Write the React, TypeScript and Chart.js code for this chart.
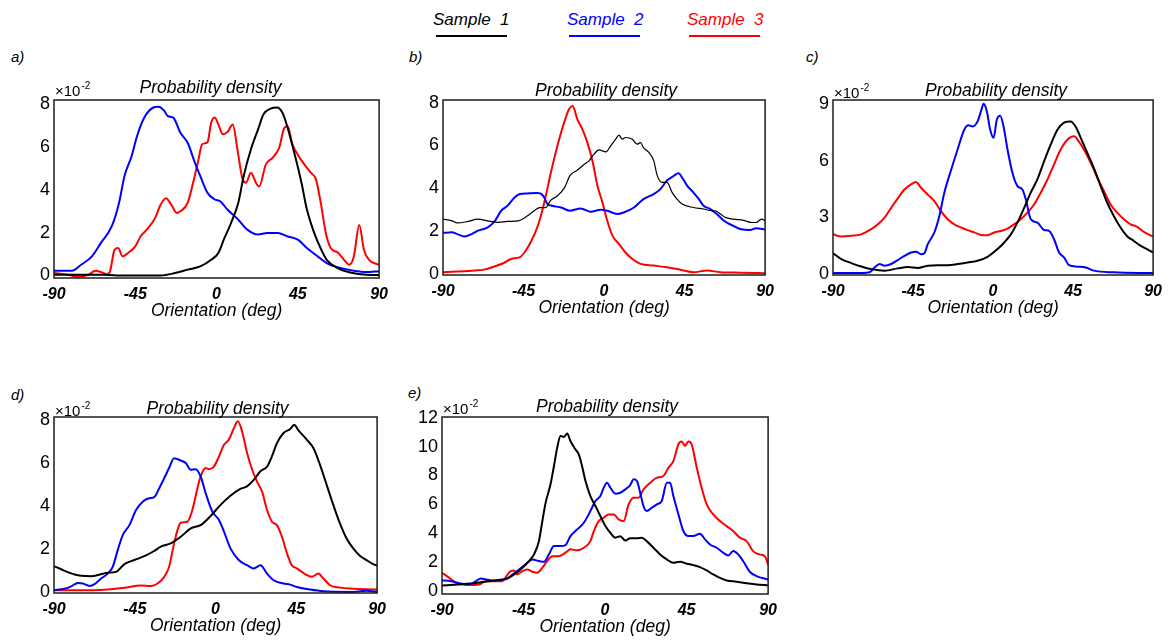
import React, { useEffect, useRef } from "react";
import { Chart, registerables } from "chart.js";

Chart.register(...registerables);

type Pt = [number, number];

const FONT = "'Liberation Sans', Arial, Helvetica, sans-serif";

// Legend / series
const SERIES_NAMES = ["Sample  1", "Sample  2", "Sample  3"];
const SERIES_COLORS = ["#000000", "#0000ff", "#ff0000"];

// Axes
const X_TICKS = [-90, -45, 0, 45, 90];
const Y_TICKS_8 = [0, 2, 4, 6, 8];
const Y_TICKS_9 = [0, 3, 6, 9];
const Y_TICKS_12 = [0, 2, 4, 6, 8, 10, 12];
const Y_TITLE = "Probability density";
const X_TITLE = "Orientation (deg)";

// ---- a) orientation (deg), density (x10^-2)
const A_S1: Pt[] = [[-90,0.03],[-80,0.03],[-64,0.03],[-55,0.0],[-31,0.0],[-23,0.11],[-16,0.27],[-9,0.42],[-3,0.73],[1,1.05],[4,1.67],[8,2.45],[12,3.38],[15,4.64],[19,5.89],[23,6.83],[26,7.53],[30,7.8],[33.5,7.85],[36.5,7.6],[39,7.0],[43,5.75],[47,4.34],[50,3.09],[54,2.0],[58,1.2],[61,0.73],[67,0.34],[74,0.14],[83,0.03],[90,0.02]];
const A_S2: Pt[] = [[-90,0.22],[-80,0.22],[-75,0.5],[-69,0.89],[-64,1.52],[-58,2.3],[-54,3.39],[-51,4.64],[-47,5.58],[-44,6.52],[-40,7.38],[-35,7.85],[-32,7.89],[-29,7.7],[-27,7.45],[-24,7.38],[-20,6.67],[-16,6.2],[-12,5.27],[-9,4.64],[-5,3.86],[-1,3.55],[2,3.47],[6,3.08],[12,2.61],[17,2.14],[23,1.91],[28,1.98],[34,1.98],[39,1.83],[45,1.67],[50,1.28],[56,0.89],[61,0.58],[69,0.34],[76,0.22],[83,0.16],[90,0.2]];
const A_S3: Pt[] = [[-90,0.11],[-82,0.03],[-77,-0.06],[-71,0.03],[-67,0.22],[-64,0.16],[-61,0.06],[-59,0.19],[-56.5,1.2],[-54.5,1.28],[-52,0.89],[-49,1.05],[-45,1.36],[-42,1.83],[-38,2.2],[-34,2.69],[-31,3.3],[-28,3.61],[-25,3.3],[-22,2.92],[-20,3.0],[-16,3.39],[-13,4.33],[-10,5.42],[-8,6.13],[-5,6.23],[-3,7.13],[-1,7.38],[1,7.06],[3.5,6.6],[6,6.7],[9,7.06],[11.7,5.81],[14.4,4.5],[16.3,4.33],[19,4.8],[21.8,4.33],[23.6,4.16],[27.3,5.19],[31,5.5],[34.7,5.97],[37.4,6.88],[39.3,6.98],[42,6.13],[44.8,5.67],[48.5,5.2],[52.2,4.8],[55,4.5],[57.7,3.39],[60.5,1.98],[63.2,1.28],[67,1.08],[70.6,0.73],[73.4,0.5],[76,0.89],[79,2.36],[81.6,1.2],[84.4,0.73],[90,0.5]];

// ---- b)
const B_S1: Pt[] = [[-90,2.56],[-85,2.48],[-82,2.38],[-76,2.45],[-70.5,2.56],[-65,2.48],[-59,2.41],[-54,2.45],[-48,2.48],[-43,2.7],[-39,2.95],[-36,3.1],[-32.5,3.1],[-30,3.42],[-26,3.65],[-22,4.04],[-19,4.6],[-15,4.84],[-11,5.12],[-8.4,5.28],[-5.6,5.59],[-2.8,5.79],[1,5.7],[3.7,5.98],[6.5,6.29],[8.3,6.48],[10.2,6.29],[12,6.37],[15.8,6.29],[18.5,6.06],[20.4,6.13],[22,5.9],[25,5.67],[27.8,5.28],[29.7,4.6],[32.4,4.27],[35.2,4.27],[38,3.81],[40.8,3.49],[43.6,3.26],[50,3.1],[55.6,3.03],[60,2.95],[62,2.95],[65,2.8],[67.7,2.64],[72.3,2.56],[77.9,2.5],[82.5,2.4],[85,2.4],[88,2.56],[90,2.48]];
const B_S2: Pt[] = [[-90,1.92],[-85,1.94],[-82,1.86],[-78,1.75],[-74,1.86],[-70.5,2.02],[-65,2.17],[-61,2.48],[-57.5,2.95],[-54,3.18],[-50,3.57],[-47,3.73],[-43,3.76],[-37,3.78],[-34,3.65],[-31.6,3.26],[-29,3.18],[-24,3.1],[-19,2.95],[-13,3.06],[-7.4,2.9],[-1.9,3.0],[1.8,2.95],[7.4,2.8],[11,2.87],[16.7,3.1],[22,3.49],[27.8,3.73],[31.5,3.96],[35,4.35],[39,4.58],[41.7,4.7],[43.6,4.5],[46.4,4.12],[50,3.8],[53,3.49],[55.6,3.18],[59.4,3.03],[63,2.8],[67,2.48],[72,2.25],[76,2.1],[81.6,2.05],[85,2.13],[90,2.07]];
const B_S3: Pt[] = [[-90,0.08],[-82,0.11],[-72,0.16],[-67,0.2],[-61,0.36],[-56,0.51],[-52,0.7],[-47,0.78],[-44.5,1.0],[-41,1.48],[-37,2.25],[-33.4,3.34],[-29.7,4.74],[-26,6.0],[-22.3,7.07],[-19.5,7.7],[-17.6,7.84],[-14.9,7.22],[-12.1,6.75],[-9.3,6.13],[-6.5,5.28],[-3.7,4.12],[-0.9,3.34],[1.8,2.48],[4.6,1.8],[8.3,1.4],[12,1.0],[15.8,0.7],[20.4,0.47],[27.8,0.39],[35.2,0.31],[42.7,0.2],[50,0.08],[57.5,0.16],[65,0.08],[76,0.06],[90,0.03]];

// ---- c)
const C_S1: Pt[] = [[-90,1.1],[-85.3,0.79],[-79.7,0.58],[-74.1,0.4],[-68.5,0.26],[-61,0.18],[-53.6,0.3],[-47.9,0.37],[-42.3,0.32],[-36.7,0.44],[-31.1,0.47],[-25.5,0.47],[-19.9,0.53],[-14.3,0.61],[-8.7,0.7],[-3.1,0.91],[2.5,1.32],[6.3,1.67],[10,2.1],[13.7,2.72],[17.5,3.5],[21.2,4.3],[24.9,5.0],[28.7,5.96],[32.4,6.84],[36.2,7.63],[39.9,8.0],[43.6,8.07],[46.4,7.8],[49.3,7.2],[53,6.4],[56.7,5.6],[60.5,4.65],[64.2,3.77],[67.9,3.07],[71.7,2.46],[75.4,2.0],[79.2,1.75],[82.9,1.5],[86.6,1.32],[90,1.14]];
const C_S2: Pt[] = [[-90,0.05],[-78,0.05],[-69.4,0.1],[-66.6,0.35],[-63.8,0.53],[-61,0.44],[-57.3,0.53],[-53.6,0.74],[-49.8,0.96],[-46.1,1.14],[-43.3,1.18],[-40.5,1.05],[-38.6,1.1],[-36.7,1.58],[-33,2.2],[-30.2,3.07],[-27.4,4.3],[-23.6,5.5],[-19.9,6.6],[-16.2,7.63],[-13.9,7.86],[-11.5,7.8],[-8.7,8.07],[-6.8,8.6],[-5.3,9.0],[-3.5,8.6],[-1.6,7.63],[0.3,7.2],[2.1,8.16],[4.0,8.37],[5.9,7.8],[8.1,6.6],[10.9,5.35],[13.7,4.65],[16.5,4.47],[18.4,3.95],[21.2,2.9],[24.9,2.72],[28.7,2.33],[31.5,2.28],[34.3,1.84],[37.1,1.14],[39.9,0.88],[42.7,0.47],[47.4,0.39],[52.1,0.35],[56.7,0.18],[67.9,0.09],[90,0.05]];
const C_S3: Pt[] = [[-90,2.1],[-85.3,1.98],[-79.7,2.02],[-74.1,2.1],[-68.5,2.37],[-64.8,2.63],[-61,2.98],[-57.3,3.5],[-53.6,4.0],[-49.8,4.47],[-46.1,4.74],[-43.3,4.86],[-40.5,4.56],[-36.7,4.2],[-33,3.86],[-29.3,3.33],[-25.5,2.9],[-21.8,2.63],[-18,2.46],[-14.3,2.32],[-10.6,2.2],[-6.8,2.07],[-3.1,2.05],[0.7,2.2],[4.4,2.28],[8.1,2.4],[11.9,2.63],[15.6,2.9],[19.3,3.25],[23.1,3.68],[26.8,4.3],[30.6,5.0],[34.3,5.8],[38,6.58],[41.8,7.1],[45.5,7.28],[48.3,7.0],[51.1,6.58],[54.9,5.88],[58.6,5.1],[62.3,4.4],[66.1,3.68],[69.8,3.25],[73.6,2.9],[77.3,2.63],[81,2.5],[84.8,2.23],[90,1.98]];

// ---- d)
const D_S1: Pt[] = [[-90,1.2],[-84.1,0.98],[-78.5,0.81],[-74.8,0.75],[-69.3,0.73],[-63.8,0.82],[-60.1,0.89],[-55.4,0.93],[-50.8,1.29],[-45.3,1.48],[-39.7,1.66],[-34.2,1.9],[-30.5,2.1],[-25,2.25],[-19.4,2.56],[-13.8,2.95],[-8.3,3.1],[-2.8,3.52],[2.8,4.04],[8.3,4.46],[13.8,4.78],[17.5,4.9],[21.3,5.2],[25,5.6],[28.7,5.82],[31.4,6.29],[34.2,6.91],[37.9,7.38],[41.6,7.56],[43.8,7.76],[46.2,7.5],[50.8,7.07],[54.5,6.68],[58.2,5.9],[61.9,4.97],[65.6,4.04],[69.3,3.18],[73,2.48],[76.7,2.02],[80.4,1.68],[84.1,1.48],[87.8,1.29],[90,1.22]];
const D_S2: Pt[] = [[-90,0.08],[-84.1,0.15],[-80.4,0.26],[-76.7,0.42],[-73.9,0.39],[-70.2,0.28],[-67.4,0.36],[-63.8,0.62],[-60.1,0.85],[-57.3,1.16],[-54.5,1.94],[-51.7,2.64],[-48,3.1],[-44.3,3.8],[-40.6,4.19],[-37,4.35],[-34.2,4.4],[-31.4,4.81],[-28.6,5.28],[-25.9,5.75],[-23.1,6.21],[-19.4,6.1],[-16.6,5.98],[-13.8,5.67],[-11.1,5.7],[-8.3,5.36],[-5.5,4.58],[-1.8,3.73],[1.9,3.34],[4.7,2.8],[8.3,2.02],[12.9,1.48],[17.6,1.24],[21.3,1.09],[25,1.24],[28.7,0.85],[32.4,0.54],[37.9,0.39],[41.6,0.34],[45.3,0.23],[52.7,0.11],[60.1,0.03],[74.9,0.0],[84.1,0.05],[90,0.0]];
const D_S3: Pt[] = [[-90,0.08],[-78.5,0.08],[-67.4,0.08],[-60.1,0.11],[-50.8,0.19],[-41.6,0.3],[-36,0.28],[-32.3,0.39],[-28.6,0.7],[-25.9,1.16],[-23.1,2.25],[-21.2,2.87],[-19.4,3.21],[-15.7,3.26],[-13.8,3.57],[-12,4.11],[-10.1,4.81],[-8.3,5.36],[-5.5,5.75],[-3.7,5.7],[-0.9,5.82],[1.9,6.29],[4.7,6.83],[7.4,7.07],[10.2,7.6],[12.4,7.92],[14.8,7.45],[17.6,6.44],[20.4,5.67],[23.1,5.12],[25.9,4.66],[28.7,3.8],[31.4,3.26],[34.2,3.1],[37,2.56],[39.8,1.79],[42.5,1.24],[45.3,1.09],[48.1,0.93],[50.8,0.78],[53.6,0.7],[57.3,0.85],[60.1,0.62],[63.8,0.31],[69.3,0.2],[76.7,0.15],[84.1,0.12],[90,0.11]];

// ---- e)
const E_S1: Pt[] = [[-90,0.39],[-81.4,0.46],[-74.1,0.53],[-66.7,0.65],[-59.4,0.76],[-53.9,0.88],[-50.2,1.15],[-46.6,1.5],[-42.9,1.96],[-39.2,2.54],[-36.5,3.46],[-34.6,4.85],[-32.8,6.12],[-30.1,7.39],[-28.2,8.66],[-26.4,9.93],[-24.6,10.74],[-22.7,10.67],[-20.9,10.9],[-19.1,10.39],[-16.3,9.8],[-14.5,9.47],[-12.7,8.66],[-10.8,7.62],[-8.1,6.58],[-5.3,5.89],[-2.6,5.2],[0.2,4.5],[2.9,4.04],[5.7,3.7],[8.4,3.8],[11.2,3.5],[13.9,3.65],[17.6,3.65],[20.3,3.7],[23,3.46],[26.7,3.0],[30.4,2.54],[34.1,2.19],[37.7,1.96],[41.4,2.03],[45.1,1.9],[48.7,1.8],[52.4,1.66],[56.1,1.43],[59.7,1.15],[63.4,0.92],[67.1,0.74],[72.6,0.65],[78.1,0.55],[83.6,0.46],[90,0.4]];
const E_S2: Pt[] = [[-90,0.74],[-85.1,0.69],[-81.4,0.58],[-77.7,0.5],[-74.1,0.5],[-71.3,0.69],[-68.6,0.88],[-65.8,0.81],[-62.1,0.74],[-58.5,0.76],[-54.8,0.81],[-51.1,1.15],[-47.5,1.5],[-43.8,1.85],[-40.1,2.19],[-36.5,2.08],[-33.7,2.03],[-31,2.54],[-28.2,3.12],[-24.6,3.12],[-21.8,3.19],[-19.1,3.81],[-15.4,4.27],[-11.7,4.73],[-8.1,5.54],[-5.3,6.24],[-2.6,6.58],[-0.7,7.16],[1.1,7.5],[2.9,7.16],[5.7,6.74],[8.4,6.81],[11.2,7.04],[13.9,7.34],[15.8,7.74],[17.6,7.62],[19.4,6.81],[21.2,5.89],[23,5.54],[25.8,5.77],[28.6,6.0],[31.3,6.24],[34.1,7.5],[35.9,7.5],[37.7,6.58],[40.5,5.31],[43.2,4.16],[46,3.81],[48.7,3.81],[52.4,3.97],[55.2,3.58],[57.9,3.23],[61.6,3.0],[65.2,2.66],[68,2.47],[70.7,2.77],[73.5,2.54],[76.2,2.08],[79.9,1.34],[83.6,1.04],[90,0.8]];
const E_S3: Pt[] = [[-90,1.27],[-86,0.92],[-82.3,0.58],[-78.6,0.46],[-75,0.42],[-69.5,0.46],[-65.8,0.69],[-61.2,0.69],[-56.6,0.69],[-54.8,0.97],[-52.1,1.39],[-50.2,1.43],[-48.4,1.15],[-45.6,1.39],[-42.9,1.5],[-40.1,1.34],[-37.4,1.27],[-34.6,1.62],[-31.9,2.08],[-29.1,2.42],[-25.5,2.42],[-21.8,2.66],[-19.1,2.89],[-15.4,2.82],[-11.7,3.0],[-8.1,3.46],[-6.2,4.16],[-3.5,4.85],[-0.7,5.08],[2.0,5.31],[4.8,5.31],[7.5,4.97],[10.3,4.85],[13,6.0],[15.8,6.47],[18.5,6.47],[21.2,7.04],[24.9,7.5],[28.6,7.85],[32.2,7.97],[35,8.55],[37.7,9.0],[40.5,10.16],[42.3,10.35],[44.2,10.05],[46,10.35],[47.8,10.16],[50.6,8.55],[53.3,7.16],[56.1,6.0],[59.7,5.31],[63.4,4.85],[67.1,4.5],[70.7,4.16],[74.4,3.7],[78.1,3.46],[81.7,2.77],[85.4,2.54],[88.2,2.42],[90,1.85]];

// ---- layout of the five panels (page pixels)
interface PanelSpec {
  letter: string;
  letterX: number;
  letterBase: number;
  box: { l: number; t: number; r: number; b: number };
  yMin: number;
  yMax: number;
  yTicks: number[];
  series: Pt[][];
  blackWidth: number;
  exponent: boolean;
  titleDx: number;
  titleDy: number;
  expDy: number;
}

const PANELS: PanelSpec[] = [
  { letter: "a)", letterX: 11, letterBase: 62, box: { l: 54, t: 100, r: 381, b: 278 }, yMin: -0.12, yMax: 8.2, yTicks: Y_TICKS_8, series: [A_S1, A_S2, A_S3], blackWidth: 2, exponent: true, titleDx: -6, titleDy: -7.5, expDy: -4.5 },
  { letter: "b)", letterX: 409, letterBase: 62, box: { l: 443, t: 100, r: 767, b: 275 }, yMin: -0.05, yMax: 8.12, yTicks: Y_TICKS_8, series: [B_S1, B_S2, B_S3], blackWidth: 1.2, exponent: false, titleDx: 2, titleDy: -4, expDy: -2 },
  { letter: "c)", letterX: 806, letterBase: 62, box: { l: 833, t: 100, r: 1155, b: 275 }, yMin: -0.05, yMax: 9.2, yTicks: Y_TICKS_9, series: [C_S1, C_S2, C_S3], blackWidth: 2, exponent: true, titleDx: 3, titleDy: -4, expDy: -2 },
  { letter: "d)", letterX: 11, letterBase: 400, box: { l: 54, t: 417, r: 379, b: 593 }, yMin: -0.05, yMax: 8.12, yTicks: Y_TICKS_8, series: [D_S1, D_S2, D_S3], blackWidth: 2, exponent: true, titleDx: 2, titleDy: -3, expDy: -1.5 },
  { letter: "e)", letterX: 408, letterBase: 398, box: { l: 442, t: 417, r: 770, b: 594 }, yMin: -0.2, yMax: 12.05, yTicks: Y_TICKS_12, series: [E_S1, E_S2, E_S3], blackWidth: 2, exponent: true, titleDx: 2, titleDy: -5, expDy: -3 },
];

const AXIS_W = 50; // room for the y tick labels
const AXIS_H = 44; // room for x tick labels and the x title
const PAD_T = 30; // room above the frame for the title
const PAD_R = 14;

// Frame, panel title and the ×10^-2 multiplier
const framePlugin = {
  id: "frame",
  afterDraw(chart: any, _args: any, opts: any) {
    const { ctx, chartArea: ca } = chart;
    ctx.save();
    ctx.strokeStyle = "#1c1c1c";
    ctx.lineWidth = 1.5;
    ctx.strokeRect(ca.left, ca.top, ca.right - ca.left, ca.bottom - ca.top);
    ctx.fillStyle = "#000";
    ctx.textBaseline = "alphabetic";
    ctx.textAlign = "center";
    ctx.font = `italic 17.5px ${FONT}`;
    ctx.fillText(Y_TITLE, (ca.left + ca.right) / 2 + opts.titleDx, ca.top + opts.titleDy);
    if (opts.exponent) {
      ctx.textAlign = "left";
      ctx.font = `15px ${FONT}`;
      const base = ca.top + opts.expDy;
      ctx.fillText("\u00d710", ca.left + 1, base);
      const w = ctx.measureText("\u00d710").width;
      ctx.font = `10px ${FONT}`;
      ctx.fillText("-2", ca.left + 2 + w, base - 7);
    }
    ctx.restore();
  },
};

function Panel({ spec }: { spec: PanelSpec }) {
  const ref = useRef<HTMLCanvasElement>(null);
  const w = spec.box.r - spec.box.l + AXIS_W + PAD_R;
  const h = spec.box.b - spec.box.t + PAD_T + AXIS_H;

  useEffect(() => {
    const canvas = ref.current;
    if (!canvas) return;
    const chart = new Chart(canvas, {
      type: "line",
      data: {
        datasets: spec.series.map((s, i) => ({
          label: SERIES_NAMES[i],
          data: s.map(([x, y]) => ({ x, y })),
          borderColor: SERIES_COLORS[i],
          borderWidth: i === 0 ? spec.blackWidth : 2,
          pointRadius: 0,
          fill: false,
          cubicInterpolationMode: "monotone",
          borderJoinStyle: "round",
          borderCapStyle: "round",
        })),
      },
      options: {
        animation: false,
        responsive: false,
        maintainAspectRatio: false,
        devicePixelRatio: 1,
        events: [],
        layout: { padding: { top: PAD_T, right: PAD_R, left: 0, bottom: 0 } },
        plugins: {
          legend: { display: false },
          tooltip: { enabled: false },
          title: { display: false },
          frame: { titleDx: spec.titleDx, titleDy: spec.titleDy, exponent: spec.exponent, expDy: spec.expDy },
        } as any,
        scales: {
          x: {
            type: "linear",
            min: -90,
            max: 90,
            grid: { display: false, drawTicks: false },
            border: { display: false },
            afterBuildTicks: (s: any) => {
              s.ticks = X_TICKS.map((v) => ({ value: v }));
            },
            afterFit: (s: any) => {
              s.height = AXIS_H;
            },
            ticks: {
              autoSkip: false,
              maxRotation: 0,
              padding: 7,
              color: "#000",
              font: { family: FONT, size: 16, weight: "bold", style: "italic" },
              callback: (v: any) => String(v),
            },
            title: {
              display: true,
              text: X_TITLE,
              color: "#000",
              font: { family: FONT, size: 17.5, style: "italic" },
              padding: { top: 0, bottom: 0 },
            },
          },
          y: {
            type: "linear",
            min: spec.yMin,
            max: spec.yMax,
            grid: { display: false, drawTicks: false },
            border: { display: false },
            afterBuildTicks: (s: any) => {
              s.ticks = spec.yTicks.map((v) => ({ value: v }));
            },
            afterFit: (s: any) => {
              s.width = AXIS_W;
            },
            ticks: {
              padding: 4,
              color: "#000",
              font: { family: FONT, size: 18 },
              callback: (v: any) => String(v),
            },
          },
        },
      } as any,
      plugins: [framePlugin],
    });
    return () => chart.destroy();
  }, [spec]);

  return (
    <canvas
      ref={ref}
      width={w}
      height={h}
      style={{ position: "absolute", left: spec.box.l - AXIS_W, top: spec.box.t - PAD_T, width: w, height: h }}
    />
  );
}

// Text placed by its baseline (line-height equal to the font size)
function Txt({ x, base, size, color, children }: { x: number; base: number; size: number; color?: string; children: React.ReactNode }) {
  return (
    <div
      style={{
        position: "absolute",
        left: x,
        top: base - size * 0.8465,
        font: `italic ${size}px ${FONT}`,
        lineHeight: `${size}px`,
        color: color || "#000",
        whiteSpace: "pre",
      }}
    >
      {children}
    </div>
  );
}

const LEGEND_TEXT_X = [433, 567, 687];
const LEGEND_LINE_X = [436, 569, 689];

export default function App() {
  return (
    <div style={{ position: "absolute", left: 0, top: 0, width: 1170, height: 642, background: "#fff", overflow: "hidden" }}>
      {SERIES_NAMES.map((name, i) => (
        <React.Fragment key={name}>
          <Txt x={LEGEND_TEXT_X[i]} base={25} size={17} color={SERIES_COLORS[i]}>
            {name}
          </Txt>
          <div style={{ position: "absolute", left: LEGEND_LINE_X[i], top: 35, width: 71, height: 2, background: SERIES_COLORS[i] }} />
        </React.Fragment>
      ))}
      {PANELS.map((p) => (
        <React.Fragment key={p.letter}>
          <Txt x={p.letterX} base={p.letterBase} size={15}>
            {p.letter}
          </Txt>
          <Panel spec={p} />
        </React.Fragment>
      ))}
    </div>
  );
}
